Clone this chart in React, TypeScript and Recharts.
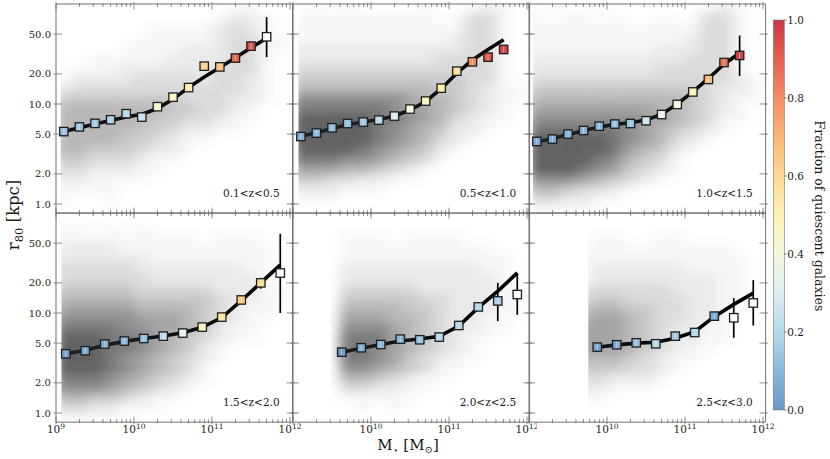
import React from 'react';
import { ComposedChart, Scatter, Line, XAxis, YAxis, ErrorBar } from 'recharts';

const FONT = '"DejaVu Serif", "Liberation Serif", serif';
const AXIS_COLOR = '#707070';
const TEXT_COLOR = '#1a1a1a';

// ---------------- data ----------------
const PANEL_LABELS = ['0.1<z<0.5', '0.5<z<1.0', '1.0<z<1.5', '1.5<z<2.0', '2.0<z<2.5', '2.5<z<3.0'];

// panel 1: 0.1<z<0.5
const MASS_P1 = [9.1, 9.3, 9.5, 9.7, 9.9, 10.1, 10.3, 10.5, 10.7, 10.9, 11.1, 11.3, 11.5, 11.7];
const R80_P1 = [5.3, 5.9, 6.4, 6.95, 8.0, 7.4, 9.4, 11.7, 14.6, 23.9, 23.5, 28.8, 37.9, 47.0];
const QFRAC_P1 = [0.13, 0.14, 0.15, 0.16, 0.2, 0.24, 0.44, 0.47, 0.52, 0.62, 0.66, 0.9, 0.93, null];
const FIT_P1 = [5.3, 5.8, 6.3, 6.85, 7.4, 7.9, 9.0, 11.2, 14.6, 18.6, 23.2, 29.0, 36.5, 45.5];
const ERR_LO_P1 = [null, null, null, null, null, null, null, null, null, null, null, null, null, 29.4];
const ERR_HI_P1 = [null, null, null, null, null, null, null, null, null, null, null, null, null, 74.0];

// panel 2: 0.5<z<1.0
const MASS_P2 = [9.1, 9.3, 9.5, 9.7, 9.9, 10.1, 10.3, 10.5, 10.7, 10.9, 11.1, 11.3, 11.5, 11.7];
const R80_P2 = [4.73, 5.12, 5.78, 6.38, 6.6, 6.9, 7.57, 8.9, 10.7, 14.4, 21.3, 26.4, 29.4, 35.1];
const QFRAC_P2 = [0.08, 0.1, 0.11, 0.12, 0.15, 0.2, 0.3, 0.4, 0.47, 0.53, 0.58, 0.8, 0.92, 0.97];
const FIT_P2 = [4.75, 5.15, 5.7, 6.2, 6.6, 7.0, 7.6, 8.7, 10.6, 14.2, 20.3, 27.5, 35.0, 43.9];
const ERR_LO_P2 = [null, null, null, null, null, null, null, null, null, null, null, null, null, null];
const ERR_HI_P2 = [null, null, null, null, null, null, null, null, null, null, null, null, null, null];

// panel 3: 1.0<z<1.5
const MASS_P3 = [9.1, 9.3, 9.5, 9.7, 9.9, 10.1, 10.3, 10.5, 10.7, 10.9, 11.1, 11.3, 11.5, 11.7];
const R80_P3 = [4.22, 4.46, 5.0, 5.43, 6.0, 6.3, 6.38, 6.8, 7.85, 9.9, 13.2, 17.6, 26.0, 30.6];
const QFRAC_P3 = [0.05, 0.07, 0.08, 0.09, 0.1, 0.12, 0.14, 0.25, 0.35, 0.4, 0.48, 0.68, 0.87, 0.97];
const FIT_P3 = [4.2, 4.5, 4.95, 5.4, 5.9, 6.25, 6.5, 6.9, 7.9, 10.0, 13.2, 18.0, 25.0, 32.3];
const ERR_LO_P3 = [null, null, null, null, null, null, null, null, null, null, null, null, null, 19.1];
const ERR_HI_P3 = [null, null, null, null, null, null, null, null, null, null, null, null, null, 48.4];

// panel 4: 1.5<z<2.0
const MASS_P4 = [9.125, 9.375, 9.625, 9.875, 10.125, 10.375, 10.625, 10.875, 11.125, 11.375, 11.625, 11.875];
const R80_P4 = [3.91, 4.19, 4.89, 5.24, 5.56, 5.87, 6.3, 7.23, 9.1, 13.5, 20.0, 25.1];
const QFRAC_P4 = [0.03, 0.05, 0.07, 0.1, 0.12, 0.22, 0.33, 0.48, 0.55, 0.64, 0.59, null];
const FIT_P4 = [3.9, 4.25, 4.75, 5.2, 5.55, 5.9, 6.35, 7.2, 9.0, 13.3, 20.0, 30.3];
const ERR_LO_P4 = [null, null, null, null, null, null, null, null, null, null, 17.5, 10.0];
const ERR_HI_P4 = [null, null, null, null, null, null, null, null, null, null, 22.5, 62.0];

// panel 5: 2.0<z<2.5
const MASS_P5 = [9.625, 9.875, 10.125, 10.375, 10.625, 10.875, 11.125, 11.375, 11.625, 11.875];
const R80_P5 = [4.06, 4.49, 4.84, 5.48, 5.4, 5.74, 7.5, 11.5, 13.2, 15.3];
const QFRAC_P5 = [0.02, 0.06, 0.1, 0.1, 0.13, 0.2, 0.2, 0.2, 0.18, null];
const FIT_P5 = [4.05, 4.45, 4.85, 5.25, 5.5, 5.85, 7.4, 11.3, 16.5, 25.2];
const ERR_LO_P5 = [null, null, null, null, null, null, null, null, 8.3, 9.6];
const ERR_HI_P5 = [null, null, null, null, null, null, null, null, 20.0, 24.7];

// panel 6: 2.5<z<3.0
const MASS_P6 = [9.875, 10.125, 10.375, 10.625, 10.875, 11.125, 11.375, 11.625, 11.875];
const R80_P6 = [4.56, 4.81, 5.03, 4.92, 5.87, 6.38, 9.3, 8.96, 12.6];
const QFRAC_P6 = [0.04, 0.06, 0.12, 0.2, 0.15, 0.2, 0.06, null, null];
const FIT_P6 = [4.55, 4.8, 5.0, 5.1, 5.6, 6.5, 9.2, 12.2, 15.8];
const ERR_LO_P6 = [null, null, null, null, null, null, null, 5.65, 7.5];
const ERR_HI_P6 = [null, null, null, null, null, null, null, 14.1, 21.3];

// galaxy cloud: density levels (0-9) read on a grid of log M (columns) x log r80 (rows, top to bottom)
const CLOUD_MASS = [9.1, 9.3, 9.5, 9.7, 9.9, 10.1, 10.3, 10.5, 10.7, 10.9, 11.1, 11.3, 11.5, 11.7, 11.9];
const CLOUD_LOGR = [1.95, 1.85, 1.75, 1.65, 1.55, 1.45, 1.35, 1.25, 1.15, 1.05, 0.95, 0.85, 0.75, 0.65, 0.55, 0.45, 0.35, 0.25, 0.15, 0.05, -0.05];
const CLOUD_MASS_LIMIT = [9.06, 9.07, 9.05, 9.07, 9.48, 9.76];

const CLOUD_P1 = [
  '000000000001100',
  '000000000012210',
  '000000111123210',
  '000001111123311',
  '000011112223311',
  '001111122223310',
  '011122222233310',
  '122223333233210',
  '233333333333210',
  '444444443332210',
  '555555544332100',
  '555555443321100',
  '555554432211000',
  '555544321100000',
  '554443221000000',
  '443332110000000',
  '332221100000000',
  '221111000000000',
  '111100000000000',
  '100100000000000',
  '000000000000000',
];
const CLOUD_P2 = [
  '010100001001210',
  '111111111013310',
  '111111111113310',
  '111111111123310',
  '222222222223310',
  '222222222333310',
  '333333333333310',
  '444444444443310',
  '555555555443211',
  '777777765543211',
  '888888766543210',
  '999998876532110',
  '999998765422100',
  '999998765321000',
  '999987654210000',
  '888776543100000',
  '666554321000000',
  '443322110000000',
  '222111000000000',
  '111000000000000',
  '000000000000000',
];
const CLOUD_P3 = [
  '010010000001210',
  '101101001013310',
  '111111111113310',
  '111111111123310',
  '111111112223310',
  '222222222233310',
  '222222223333310',
  '333333333333321',
  '444444444443221',
  '555555555543211',
  '666666665543210',
  '777777766543110',
  '888888765432100',
  '999998765321000',
  '999998654210000',
  '999987543100000',
  '999876432100000',
  '777654321000000',
  '554332100000000',
  '332211000000000',
  '111100000000000',
];
const CLOUD_P4 = [
  '000000000000000',
  '110101000000000',
  '111111111011100',
  '222211111111110',
  '222222111111110',
  '333332222222110',
  '333333222222210',
  '444443333322211',
  '555554444432211',
  '666665555432110',
  '777776665432110',
  '888877665421100',
  '999887654321100',
  '999887654210000',
  '999876543210000',
  '999876543100000',
  '888765432100000',
  '777654321000000',
  '554432110000000',
  '332211100000000',
  '111100000000000',
];
const CLOUD_P5 = [
  '000000000000000',
  '000000000000000',
  '000111011110000',
  '000111111111100',
  '000111111111110',
  '000222222222110',
  '000222222222210',
  '000333332222211',
  '000444443322211',
  '000555544322211',
  '000666554322110',
  '000777654322110',
  '000888654321100',
  '000887654321000',
  '000887643211000',
  '000776543110000',
  '000554321100000',
  '000332211000000',
  '000111110000000',
  '000010100000000',
  '000000000000000',
];
const CLOUD_P6 = [
  '000000000000000',
  '000000000000000',
  '000011001100000',
  '000111111111100',
  '000111111111110',
  '000122222211110',
  '000122222222110',
  '000233333222110',
  '000344333322110',
  '000455443322110',
  '000566543322100',
  '000666543221100',
  '000666543221100',
  '000666543211000',
  '000555432110000',
  '000444332100000',
  '000332221000000',
  '000221110000000',
  '000110000000000',
  '000000000000000',
  '000000000000000',
];

// axis ticks
const MASS_MAJOR = [9, 10, 11, 12];
const MASS_MINOR_MULT = [2, 3, 4, 5, 6, 7, 8, 9];
const R_TICKS = [1, 2, 5, 10, 20, 50];
const X_LABELS_FIRST = [9, 10, 11, 12];
const X_LABELS_OTHER = [10, 11, 12];

// colour bar
const CBAR_TICKS = [0.0, 0.2, 0.4, 0.6, 0.8, 1.0];
const CMAP_POS = [0, 0.1, 0.2, 0.3, 0.4, 0.5, 0.6, 0.7, 0.8, 0.9, 1.0];
const CMAP_HEX = ['#6a97c6', '#8ab8da', '#b5d9ea', '#dceef2', '#f3f8dc', '#fdf2b2', '#fdd990', '#fbb674', '#f48e62', '#e4614f', '#c93844'];

// ---------------- geometry ----------------
const X_MIN = 9;
const X_MAX = 12.033;
const Y_MIN = Math.log10(0.81);
const Y_MAX = 2.0;
const PW = 236.6;
const PH = 209.15;
const COL_LEFT = [56, 292.6, 529.2];
const ROW_TOP = [4.3, 213.45];
const PAD_L = 48;
const PAD_R = 8;
const PAD_T = 8;
const PAD_B = 18;
const PX_PER_DEX_X = PW / (X_MAX - X_MIN);
const PX_PER_DEX_Y = PH / (Y_MAX - Y_MIN);
const CELL_W = 0.2 * PX_PER_DEX_X;
const CELL_H = 0.1 * PX_PER_DEX_Y;

const X_TICKS: number[] = [];
MASS_MAJOR.forEach((d) => {
  X_TICKS.push(d);
  if (d < 12) MASS_MINOR_MULT.forEach((m) => X_TICKS.push(d + Math.log10(m)));
});
const Y_TICKS = R_TICKS.map((r) => Math.log10(r));

// ---------------- helpers ----------------
function hexRgb(h: string) {
  return [parseInt(h.slice(1, 3), 16), parseInt(h.slice(3, 5), 16), parseInt(h.slice(5, 7), 16)];
}
function cmap(v: number) {
  const t = Math.max(0, Math.min(1, v));
  let i = 0;
  while (i < CMAP_POS.length - 2 && t > CMAP_POS[i + 1]) i++;
  const a = hexRgb(CMAP_HEX[i]);
  const b = hexRgb(CMAP_HEX[i + 1]);
  const f = (t - CMAP_POS[i]) / (CMAP_POS[i + 1] - CMAP_POS[i]);
  const c = a.map((av, k) => Math.round(av + (b[k] - av) * f));
  return `rgb(${c[0]},${c[1]},${c[2]})`;
}

function buildCloud(grid: string[]) {
  const out: any[] = [];
  grid.forEach((row, i) => {
    for (let j = 0; j < row.length; j++) {
      const level = Number(row[j]);
      if (level > 0) out.push({ x: CLOUD_MASS[j], y: CLOUD_LOGR[i], level });
    }
  });
  return out;
}

function buildPoints(mass: number[], r: number[], frac: (number | null)[], fit: number[], lo: (number | null)[], hi: (number | null)[]) {
  return mass.map((m, i) => {
    const y = Math.log10(r[i]);
    const err = lo[i] != null && hi[i] != null ? [y - Math.log10(lo[i] as number), Math.log10(hi[i] as number) - y] : [0, 0];
    return { x: m, y, frac: frac[i], fit: Math.log10(fit[i]), err, hasErr: lo[i] != null };
  });
}

const PANELS = [
  { pts: buildPoints(MASS_P1, R80_P1, QFRAC_P1, FIT_P1, ERR_LO_P1, ERR_HI_P1), cloud: buildCloud(CLOUD_P1) },
  { pts: buildPoints(MASS_P2, R80_P2, QFRAC_P2, FIT_P2, ERR_LO_P2, ERR_HI_P2), cloud: buildCloud(CLOUD_P2) },
  { pts: buildPoints(MASS_P3, R80_P3, QFRAC_P3, FIT_P3, ERR_LO_P3, ERR_HI_P3), cloud: buildCloud(CLOUD_P3) },
  { pts: buildPoints(MASS_P4, R80_P4, QFRAC_P4, FIT_P4, ERR_LO_P4, ERR_HI_P4), cloud: buildCloud(CLOUD_P4) },
  { pts: buildPoints(MASS_P5, R80_P5, QFRAC_P5, FIT_P5, ERR_LO_P5, ERR_HI_P5), cloud: buildCloud(CLOUD_P5) },
  { pts: buildPoints(MASS_P6, R80_P6, QFRAC_P6, FIT_P6, ERR_LO_P6, ERR_HI_P6), cloud: buildCloud(CLOUD_P6) },
];

const isMajor = (v: number) => Math.abs(v - Math.round(v)) < 1e-6;
const levelOpacity = (lv: number) => 0.74 * Math.pow(lv / 9, 1.35);

// ---------------- ticks ----------------
function BottomTick(props: any) {
  const { x, y, payload, labels } = props;
  const v = payload.value;
  const major = isMajor(v);
  const lab = labels && major && labels.indexOf(Math.round(v)) >= 0;
  return (
    <g>
      <line x1={x} x2={x} y1={y + (major ? 2 : 1)} y2={y - (major ? 5.5 : 3)} stroke={AXIS_COLOR} strokeWidth={0.8} />
      {lab ? (
        <text x={x} y={y + 11.3} textAnchor="middle" fontFamily={FONT} fontSize={10.5} fill={TEXT_COLOR}>
          10<tspan fontSize={7.5} dy={-4.2}>{Math.round(v)}</tspan>
        </text>
      ) : null}
    </g>
  );
}
function TopTick(props: any) {
  const { x, y, payload } = props;
  const major = isMajor(payload.value);
  return <line x1={x} x2={x} y1={y - (major ? 2 : 1)} y2={y + (major ? 5.5 : 3)} stroke={AXIS_COLOR} strokeWidth={0.8} />;
}
function LeftTick(props: any) {
  const { x, y, payload, showLabels } = props;
  const v = Math.pow(10, payload.value);
  return (
    <g>
      <line x1={x - 2.5} x2={x + 6} y1={y} y2={y} stroke={AXIS_COLOR} strokeWidth={0.8} />
      {showLabels ? (
        <text x={x - 5} y={y} dy="0.36em" textAnchor="end" fontFamily={FONT} fontSize={10} fill={TEXT_COLOR}>
          {v.toFixed(1)}
        </text>
      ) : null}
    </g>
  );
}
function RightTick(props: any) {
  const { x, y } = props;
  return <line x1={x + 2.5} x2={x - 6} y1={y} y2={y} stroke={AXIS_COLOR} strokeWidth={0.8} />;
}

// ---------------- marks ----------------
function CloudCell(props: any) {
  const { cx, cy, payload } = props;
  if (cx == null || cy == null) return <g />;
  return <rect x={cx - CELL_W / 2} y={cy - CELL_H / 2} width={CELL_W} height={CELL_H} fill="#2a2a2a" fillOpacity={levelOpacity(payload.level)} />;
}
function SquareMark(props: any) {
  const { cx, cy, payload } = props;
  if (cx == null || cy == null) return <g />;
  const s = 8.4;
  const f = payload.frac;
  const fill = f == null ? '#ffffff' : cmap(f);
  return (
    <g>
      <rect x={cx - s / 2} y={cy - s / 2} width={s} height={s} fill={fill} stroke="#1e1e1e" strokeWidth={1.3} />
      {f != null ? (
        <line x1={cx} x2={cx} y1={cy - s / 2 + 1.2} y2={cy + s / 2 - 1.2} stroke="#ffffff" strokeOpacity={0.4} strokeWidth={1.1} />
      ) : null}
    </g>
  );
}
const NoMark = () => <g />;

// ---------------- panel ----------------
function Panel({ idx }: { idx: number }) {
  const col = idx % 3;
  const row = Math.floor(idx / 3);
  const p = PANELS[idx];
  const errPts = p.pts.filter((d) => d.hasErr);
  const xLabels = row === 1 ? (col === 0 ? X_LABELS_FIRST : X_LABELS_OTHER) : null;
  return (
    <div style={{ position: 'absolute', left: COL_LEFT[col] - PAD_L, top: ROW_TOP[row] - PAD_T }}>
      <ComposedChart
        width={PAD_L + PW + PAD_R}
        height={PAD_T + PH + PAD_B}
        margin={{ left: 0, right: 0, top: 0, bottom: 0 }}
      >
        <XAxis
          xAxisId="b"
          dataKey="x"
          type="number"
          domain={[X_MIN, X_MAX]}
          allowDataOverflow
          ticks={X_TICKS}
          interval={0}
          height={PAD_B}
          tickSize={0}
          tickMargin={0}
          tickLine={false}
          axisLine={{ stroke: AXIS_COLOR, strokeWidth: 1 }}
          tick={(tp: any) => <BottomTick {...tp} labels={xLabels} />}
        />
        <XAxis
          xAxisId="t"
          orientation="top"
          dataKey="x"
          type="number"
          domain={[X_MIN, X_MAX]}
          allowDataOverflow
          ticks={X_TICKS}
          interval={0}
          height={PAD_T}
          tickSize={0}
          tickMargin={0}
          tickLine={false}
          axisLine={{ stroke: AXIS_COLOR, strokeWidth: 1 }}
          tick={(tp: any) => <TopTick {...tp} />}
        />
        <YAxis
          yAxisId="l"
          type="number"
          domain={[Y_MIN, Y_MAX]}
          allowDataOverflow
          ticks={Y_TICKS}
          interval={0}
          width={PAD_L}
          tickSize={0}
          tickMargin={0}
          tickLine={false}
          axisLine={{ stroke: AXIS_COLOR, strokeWidth: 1 }}
          tick={(tp: any) => <LeftTick {...tp} showLabels={col === 0} />}
        />
        <YAxis
          yAxisId="r"
          orientation="right"
          type="number"
          domain={[Y_MIN, Y_MAX]}
          allowDataOverflow
          ticks={Y_TICKS}
          interval={0}
          width={PAD_R}
          tickSize={0}
          tickMargin={0}
          tickLine={false}
          axisLine={{ stroke: AXIS_COLOR, strokeWidth: 1 }}
          tick={(tp: any) => <RightTick {...tp} />}
        />
        <Scatter
          xAxisId="b"
          yAxisId="l"
          data={p.cloud}
          dataKey="y"
          className={`cloud-${idx}`}
          shape={(sp: any) => <CloudCell {...sp} />}
          isAnimationActive={false}
        />
        <Line
          xAxisId="b"
          yAxisId="l"
          data={p.pts}
          dataKey="fit"
          type="linear"
          stroke="#000000"
          strokeWidth={3.6}
          dot={false}
          activeDot={false}
          isAnimationActive={false}
        />
        <Scatter
          xAxisId="b"
          yAxisId="l"
          data={errPts}
          dataKey="y"
          shape={NoMark}
          isAnimationActive={false}
        >
          <ErrorBar dataKey="err" direction="y" width={0} stroke="#000000" strokeWidth={1.7} isAnimationActive={false} />
        </Scatter>
        <Scatter
          xAxisId="b"
          yAxisId="l"
          data={p.pts}
          dataKey="y"
          shape={(sp: any) => <SquareMark {...sp} />}
          isAnimationActive={false}
        />
      </ComposedChart>
    </div>
  );
}

// ---------------- app ----------------
const CBAR_X = 773.3;
const CBAR_Y = 20;
const CBAR_W = 11;
const CBAR_H = 390;

export default function App() {
  const css = CLOUD_MASS_LIMIT.map(
    (_, i) => `.cloud-${i}{filter:url(#cloudBlur);clip-path:url(#cloudClip${i});}`
  ).join('\n');
  return (
    <div style={{ position: 'absolute', left: 0, top: 0, width: 830, height: 459, background: '#ffffff', overflow: 'hidden', fontFamily: FONT }}>
      <style>{css}</style>
      <svg width={0} height={0} style={{ position: 'absolute', left: 0, top: 0 }}>
        <defs>
          <filter id="cloudBlur" x="-20%" y="-20%" width="140%" height="140%" colorInterpolationFilters="sRGB">
            <feGaussianBlur stdDeviation="6.5 4.5" />
          </filter>
          {CLOUD_MASS_LIMIT.map((m, i) => (
            <clipPath key={i} id={`cloudClip${i}`} clipPathUnits="userSpaceOnUse">
              <rect x={PAD_L + (m - X_MIN) * PX_PER_DEX_X} y={PAD_T} width={PW - (m - X_MIN) * PX_PER_DEX_X} height={PH} />
            </clipPath>
          ))}
        </defs>
      </svg>
      {PANEL_LABELS.map((_, i) => (
        <Panel key={i} idx={i} />
      ))}
      <svg width={830} height={459} style={{ position: 'absolute', left: 0, top: 0, pointerEvents: 'none' }}>
        <defs>
          <linearGradient id="cbarGrad" x1="0" y1="1" x2="0" y2="0">
            {CMAP_POS.map((p, i) => (
              <stop key={i} offset={p} stopColor={CMAP_HEX[i]} />
            ))}
          </linearGradient>
        </defs>
        {PANEL_LABELS.map((lab, i) => {
          const col = i % 3;
          const row = Math.floor(i / 3);
          return (
            <text key={i} x={COL_LEFT[col] + PW - 13} y={ROW_TOP[row] + PH - 16.6} textAnchor="end" fontFamily={FONT} fontSize={10.5} fill={TEXT_COLOR}>
              {lab}
            </text>
          );
        })}
        {/* y label */}
        <text x={19} y={215} transform="rotate(-90, 19, 215)" textAnchor="middle" fontFamily={FONT} fontSize={16.5} fill={TEXT_COLOR}>
          r<tspan fontSize={11.5} dy={3.5}>80</tspan><tspan dy={-3.5}> [kpc]</tspan>
        </text>
        {/* x label */}
        <text x={408} y={450} textAnchor="middle" fontFamily={FONT} fontSize={15} fill={TEXT_COLOR}>
          M<tspan fontSize={9} dy={3}>⋆</tspan><tspan dy={-3}> [M</tspan><tspan fontSize={10} dy={3}>⊙</tspan><tspan dy={-3}>]</tspan>
        </text>
        {/* colour bar */}
        <rect x={CBAR_X} y={CBAR_Y} width={CBAR_W} height={CBAR_H} fill="url(#cbarGrad)" stroke="#7a7a7a" strokeWidth={0.6} />
        {CBAR_TICKS.map((t, i) => {
          const yy = CBAR_Y + CBAR_H - t * CBAR_H;
          return (
            <g key={i}>
              <line x1={CBAR_X + CBAR_W} x2={CBAR_X + CBAR_W + 2.5} y1={yy} y2={yy} stroke="#555" strokeWidth={0.7} />
              <text x={CBAR_X + CBAR_W + 3} y={yy} dy="0.36em" fontFamily={FONT} fontSize={10.5} fill={TEXT_COLOR}>
                {t.toFixed(1)}
              </text>
            </g>
          );
        })}
        <text x={814.5} y={216} transform="rotate(90, 814.5, 216)" textAnchor="middle" fontFamily={FONT} fontSize={12.5} fill={TEXT_COLOR}>
          Fraction of quiescent galaxies
        </text>
      </svg>
    </div>
  );
}
